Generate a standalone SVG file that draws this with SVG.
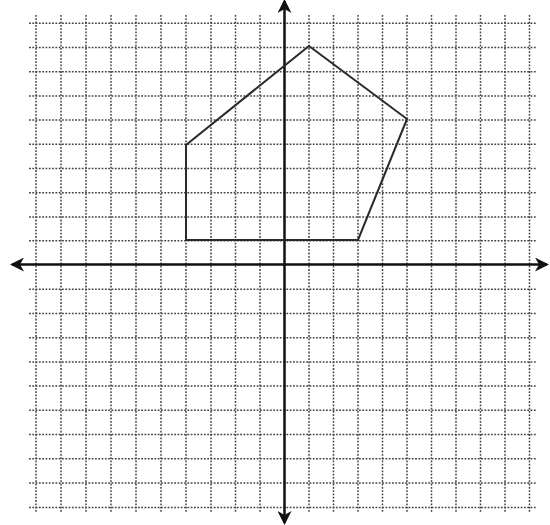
<svg xmlns="http://www.w3.org/2000/svg" width="550" height="525" viewBox="0 0 550 525">
<style>
.grid{stroke:#444;stroke-width:1.5;stroke-dasharray:1.8 1.5;fill:none}
.axis{stroke:#111;stroke-width:2.5;fill:none}
.poly{stroke:#2a2a2a;stroke-width:2;fill:none;stroke-linejoin:miter}
</style>
<defs>
<marker id="ah" viewBox="0 0 14 14" refX="12" refY="7" markerWidth="14" markerHeight="14" markerUnits="userSpaceOnUse" orient="auto">
<path d="M0,0 L14,7 L0,14 L4,7 Z" fill="#111"/>
</marker>
</defs>
<rect width="550" height="525" fill="#fff"/>
<g id="grid">
<path class="grid" d="M36,15V512 M61,15V512 M86,15V512 M111,15V512 M136,15V512 M161,15V512 M186,15V512 M211,15V512 M235.5,15V512 M260,15V512 M309,15V512 M333.5,15V512 M358,15V512 M382.5,15V512 M407,15V512 M431.5,15V512 M456,15V512 M480.5,15V512 M505,15V512 M529.5,15V512"/>
<path class="grid" d="M29,23.3H536 M29,47.5H536 M29,71.7H536 M29,95.9H536 M29,120.1H536 M29,144.3H536 M29,168.5H536 M29,192.7H536 M29,216.9H536 M29,240.7H536 M29,289.3H536 M29,313.5H536 M29,337.7H536 M29,361.9H536 M29,386.1H536 M29,410.3H536 M29,434.5H536 M29,458.7H536 M29,482.9H536 M29,507.5H536"/>
</g>
<g id="axes">
<line class="axis" x1="284.5" y1="264.5" x2="12" y2="264.5" marker-end="url(#ah)"/>
<line class="axis" x1="284.5" y1="264.5" x2="547" y2="264.5" marker-end="url(#ah)"/>
<line class="axis" x1="284.5" y1="264.5" x2="284.5" y2="1" marker-end="url(#ah)"/>
<line class="axis" x1="284.5" y1="264.5" x2="284.5" y2="523" marker-end="url(#ah)"/>
</g>
<g id="polygon">
<polygon class="poly" points="309,46 407,119 358,240 186,240 186,145"/>
</g>
</svg>
